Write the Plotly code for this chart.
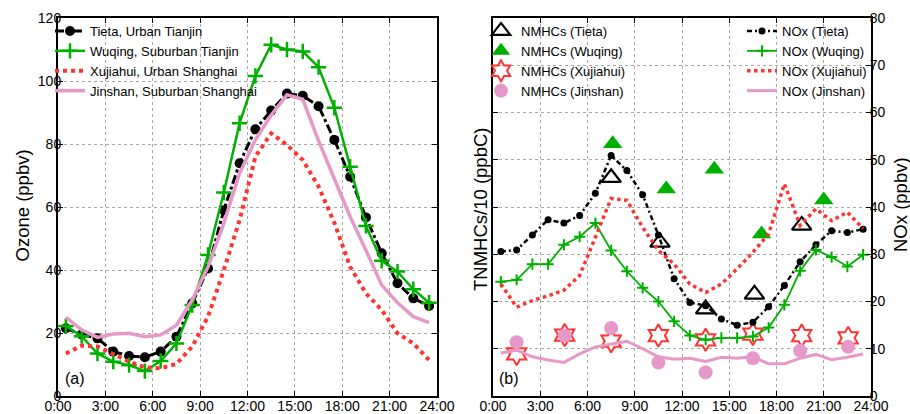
import plotly.graph_objects as go

hours = [h + 0.5 for h in range(24)]

# Panel (a): Ozone (ppbv)
o3_tieta = [21.5, 19.5, 18.3, 14.1, 12.7, 12.3, 14.1, 18.8, 29.4, 40.5, 59.0, 73.9,
            84.7, 90.6, 96.0, 95.3, 92.0, 81.3, 69.6, 56.7, 45.3, 35.8, 31.0, 28.6]
o3_wuqing = [22.2, 19.0, 13.5, 10.9, 9.8, 7.9, 11.1, 16.7, 28.9, 44.8, 64.6, 86.6,
             101.6, 111.5, 110.0, 109.4, 104.4, 91.5, 72.8, 54.0, 42.9, 39.5, 33.9, 29.6]
o3_xujiahui = [13.5, 16.0, 15.7, 13.3, 10.9, 9.1, 8.8, 10.2, 15.7, 25.2, 40.0, 55.9,
               76.0, 83.4, 79.7, 74.9, 66.5, 55.0, 41.0, 32.6, 27.3, 19.9, 16.7, 11.4]
o3_jinshan = [25.0, 21.0, 18.6, 19.7, 19.9, 18.8, 19.4, 22.5, 30.5, 41.0, 54.8, 70.7,
              81.3, 89.2, 95.6, 94.2, 81.0, 68.6, 56.9, 46.3, 35.2, 29.6, 25.2, 23.3]

# Panel (b): NOx (ppbv)
nox_tieta = [30.6, 30.9, 34.1, 37.3, 36.6, 38.2, 42.9, 50.9, 47.7, 42.6, 34.1, 24.8,
             19.8, 19.1, 16.3, 15.0, 15.6, 18.9, 23.4, 28.4, 32.0, 35.0, 34.6, 35.3]
nox_wuqing = [24.2, 24.6, 27.9, 27.9, 32.0, 33.7, 36.6, 30.8, 26.4, 22.9, 20.0, 15.8,
              12.8, 11.9, 12.3, 12.3, 12.6, 14.5, 19.3, 26.5, 30.9, 29.4, 27.4, 29.9]
nox_xujiahui = [23.7, 18.8, 20.2, 21.2, 22.4, 25.5, 33.6, 41.8, 41.4, 35.7, 30.8, 27.9,
                23.7, 21.9, 23.7, 26.9, 30.4, 34.3, 44.9, 36.1, 39.6, 37.1, 38.9, 35.4]
nox_jinshan = [9.1, 9.7, 8.3, 7.6, 7.1, 8.9, 10.4, 11.0, 11.6, 10.0, 8.3, 7.8,
               8.0, 7.3, 8.2, 8.0, 8.3, 6.8, 6.8, 8.0, 8.8, 7.7, 8.2, 8.9]

# Panel (b): TNMHCs/10 (ppbC)
nmhc_tieta_t = [7.5, 10.6, 13.5, 16.6, 19.6]
nmhc_tieta = [46.2, 32.5, 18.4, 21.5, 36.1]
nmhc_wuqing_t = [7.6, 11.0, 14.05, 17.05, 21.0]
nmhc_wuqing = [53.4, 43.8, 48.0, 34.3, 41.5]
nmhc_xuj_t = [1.5, 4.55, 7.5, 10.5, 13.5, 16.5, 19.6, 22.55]
nmhc_xujiahui = [8.9, 12.9, 11.6, 12.8, 11.9, 13.1, 12.8, 12.3]
nmhc_jin_t = [1.5, 4.55, 7.5, 10.5, 13.5, 16.5, 19.5, 22.55]
nmhc_jinshan = [11.4, 12.8, 14.4, 7.1, 5.0, 8.0, 9.6, 10.4]

xtick_vals = [0, 3, 6, 9, 12, 15, 18, 21, 24]
xtick_text = ["0:00", "3:00", "6:00", "9:00", "12:00", "15:00", "18:00", "21:00", "24:00"]

BLACK = "#000000"
GREEN = "#00b000"
RED = "#ff3333"
PINK = "#e699c8"
FONT = "Arial, Liberation Sans, sans-serif"
W, H = 910, 414

fig = go.Figure()

# ---- Panel (a)
fig.add_trace(go.Scatter(x=hours, y=o3_tieta, name="Tieta, Urban Tianjin", mode="lines+markers",
                         line=dict(color=BLACK, width=3, dash="dashdot"),
                         marker=dict(symbol="circle", size=10, color=BLACK),
                         xaxis="x", yaxis="y", legend="legend"))
fig.add_trace(go.Scatter(x=hours, y=o3_wuqing, name="Wuqing, Suburban Tianjin", mode="lines+markers",
                         line=dict(color=GREEN, width=2.5),
                         marker=dict(symbol="cross-thin", size=11, line=dict(color=GREEN, width=2.5)),
                         xaxis="x", yaxis="y", legend="legend"))
fig.add_trace(go.Scatter(x=hours, y=o3_xujiahui, name="Xujiahui, Urban Shanghai", mode="lines",
                         line=dict(color=RED, width=4, dash="dot"),
                         xaxis="x", yaxis="y", legend="legend"))
fig.add_trace(go.Scatter(x=hours, y=o3_jinshan, name="Jinshan, Suburban Shanghai", mode="lines",
                         line=dict(color=PINK, width=3.5),
                         xaxis="x", yaxis="y", legend="legend"))

# ---- Panel (b) NMHC markers (left axis)
fig.add_trace(go.Scatter(x=nmhc_tieta_t, y=nmhc_tieta, name="NMHCs (Tieta)", mode="markers",
                         marker=dict(symbol="triangle-up-open", size=17, color=BLACK, line=dict(width=2.2)),
                         xaxis="x2", yaxis="y3", legend="legend2"))
fig.add_trace(go.Scatter(x=nmhc_wuqing_t, y=nmhc_wuqing, name="NMHCs (Wuqing)", mode="markers",
                         marker=dict(symbol="triangle-up", size=17, color=GREEN),
                         xaxis="x2", yaxis="y3", legend="legend2"))
fig.add_trace(go.Scatter(x=nmhc_xuj_t, y=nmhc_xujiahui, name="NMHCs (Xujiahui)", mode="markers",
                         marker=dict(symbol="hexagram-open", size=17, color=RED, line=dict(width=2)),
                         xaxis="x2", yaxis="y3", legend="legend2"))
fig.add_trace(go.Scatter(x=nmhc_jin_t, y=nmhc_jinshan, name="NMHCs (Jinshan)", mode="markers",
                         marker=dict(symbol="circle", size=14, color=PINK),
                         xaxis="x2", yaxis="y3", legend="legend2"))

# ---- Panel (b) NOx lines (right axis)
fig.add_trace(go.Scatter(x=hours, y=nox_tieta, name="NOx (Tieta)", mode="lines+markers",
                         line=dict(color=BLACK, width=2.5, dash="5px,3px,2px,3px"),
                         marker=dict(symbol="circle", size=7, color=BLACK),
                         xaxis="x2", yaxis="y4", legend="legend3"))
fig.add_trace(go.Scatter(x=hours, y=nox_wuqing, name="NOx (Wuqing)", mode="lines+markers",
                         line=dict(color=GREEN, width=1.8),
                         marker=dict(symbol="cross-thin", size=8, line=dict(color=GREEN, width=2)),
                         xaxis="x2", yaxis="y4", legend="legend3"))
fig.add_trace(go.Scatter(x=hours, y=nox_xujiahui, name="NOx (Xujiahui)", mode="lines",
                         line=dict(color=RED, width=3.5, dash="dot"),
                         xaxis="x2", yaxis="y4", legend="legend3"))
fig.add_trace(go.Scatter(x=hours, y=nox_jinshan, name="NOx (Jinshan)", mode="lines",
                         line=dict(color=PINK, width=3),
                         xaxis="x2", yaxis="y4", legend="legend3"))

TICKFONT = dict(family=FONT, size=14, color=BLACK)
TITLEFONT = dict(family=FONT, size=18.5, color=BLACK)
axis_common = dict(showline=True, linecolor=BLACK, linewidth=2, mirror="ticks",
                   ticks="inside", ticklen=5, tickwidth=1, tickcolor=BLACK,
                   showgrid=True, gridcolor="#a8a8a8", griddash="dot", gridwidth=1,
                   zeroline=False, automargin=False, tickfont=TICKFONT)

ydom = [1 - 396 / H, 1 - 18 / H]

def vtitle(text, x, y):
    return dict(text=text, x=x / W, y=1 - y / H, xref="paper", yref="paper",
                xanchor="center", yanchor="middle", textangle=-90, showarrow=False,
                font=TITLEFONT)

def label(text, x, y):
    return dict(text=text, x=x / W, y=1 - y / H, xref="paper", yref="paper",
                xanchor="left", yanchor="middle", showarrow=False,
                font=dict(family=FONT, size=16, color=BLACK))

fig.update_layout(
    template="none",
    width=W, height=H,
    margin=dict(l=0, r=0, t=0, b=0, pad=0),
    paper_bgcolor="white", plot_bgcolor="white",
    font=dict(family=FONT, size=13, color=BLACK),
    xaxis=dict(domain=[58 / W, 437 / W], range=[0, 24], tickvals=xtick_vals,
               ticktext=xtick_text, anchor="y", ticklabelstandoff=-4, **axis_common),
    yaxis=dict(domain=ydom, range=[0, 120], dtick=20, anchor="x", ticklabelstandoff=-8,
               **axis_common),
    xaxis2=dict(domain=[493 / W, 871 / W], range=[0, 24], tickvals=xtick_vals,
                ticktext=xtick_text, anchor="y3", ticklabelstandoff=-4, **axis_common),
    yaxis3=dict(domain=ydom, range=[0, 80], dtick=10, anchor="x2", showticklabels=False,
                **axis_common),
    yaxis4=dict(range=[0, 80], dtick=10, anchor="x2", overlaying="y3", side="right",
                showline=True, linecolor=BLACK, linewidth=2, ticks="inside", ticklen=5,
                tickcolor=BLACK, showgrid=False, zeroline=False, automargin=False,
                ticklabelstandoff=-6, tickfont=TICKFONT),
    legend=dict(x=50 / W, y=1 - 16 / H, xanchor="left", yanchor="top",
                bgcolor="rgba(255,255,255,0)", font=dict(family=FONT, size=13),
                itemwidth=30, tracegroupgap=0),
    legend2=dict(x=481 / W, y=1 - 16 / H, xanchor="left", yanchor="top",
                 bgcolor="rgba(255,255,255,0)", font=dict(family=FONT, size=13),
                 itemwidth=30, tracegroupgap=0),
    legend3=dict(x=872 / W, y=1 - 16 / H, xanchor="right", yanchor="top",
                 bgcolor="rgba(255,255,255,0)", font=dict(family=FONT, size=13),
                 itemwidth=30, tracegroupgap=0),
    annotations=[
        vtitle("Ozone (ppbv)", 21.5, 206),
        vtitle("TNMHCs/10 (ppbC)", 480, 210),
        vtitle("NOx (ppbv)", 900, 205),
        label("(a)", 63, 378),
        label("(b)", 497, 378),
    ],
)

fig.write_html("out.html", config={"displayModeBar": False},
               post_script="document.body.style.margin='0';")
